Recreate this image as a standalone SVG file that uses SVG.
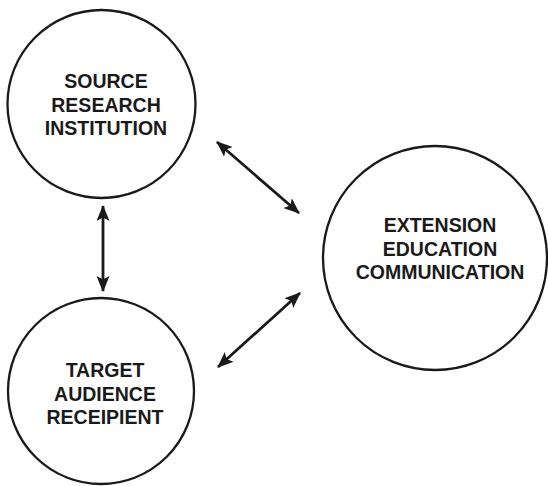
<svg xmlns="http://www.w3.org/2000/svg" width="548" height="486" viewBox="0 0 548 486">
  <style>
    .node circle { fill: #ffffff; stroke: #1a1a1a; stroke-width: 2.3; }
    .node text { font-family: "Liberation Sans", Arial, sans-serif; font-weight: bold; font-size: 19.5px; fill: #1a1a1a; text-anchor: middle; }
    .link { stroke: #1a1a1a; stroke-width: 2.8; fill: none; marker-start: url(#head); marker-end: url(#head); }
  </style>
  <defs>
    <marker id="head" viewBox="0 0 16 13" refX="15" refY="6.5" markerWidth="16" markerHeight="13" markerUnits="userSpaceOnUse" orient="auto-start-reverse">
      <path d="M0,0 L16,6.5 L0,13 L3.5,6.5 Z" fill="#1a1a1a"/>
    </marker>
  </defs>
  <rect width="548" height="486" fill="#ffffff"/>

  <g id="source" class="node">
    <circle cx="101.5" cy="104" r="94"/>
    <text x="106" y="88">SOURCE</text>
    <text x="106" y="112">RESEARCH</text>
    <text x="106" y="135">INSTITUTION</text>
  </g>

  <g id="target" class="node">
    <circle cx="101" cy="391" r="93"/>
    <text x="105" y="377">TARGET</text>
    <text x="105" y="401">AUDIENCE</text>
    <text x="105" y="424">RECEIPIENT</text>
  </g>

  <g id="extension" class="node">
    <circle cx="435" cy="258" r="112"/>
    <text x="440" y="232">EXTENSION</text>
    <text x="440" y="256">EDUCATION</text>
    <text x="440" y="279">COMMUNICATION</text>
  </g>

  <g id="connectors">
    <line class="link" x1="103" y1="206" x2="103" y2="291"/>
    <line class="link" x1="217" y1="142" x2="299" y2="213"/>
    <line class="link" x1="300" y1="293" x2="218" y2="367"/>
  </g>
</svg>
